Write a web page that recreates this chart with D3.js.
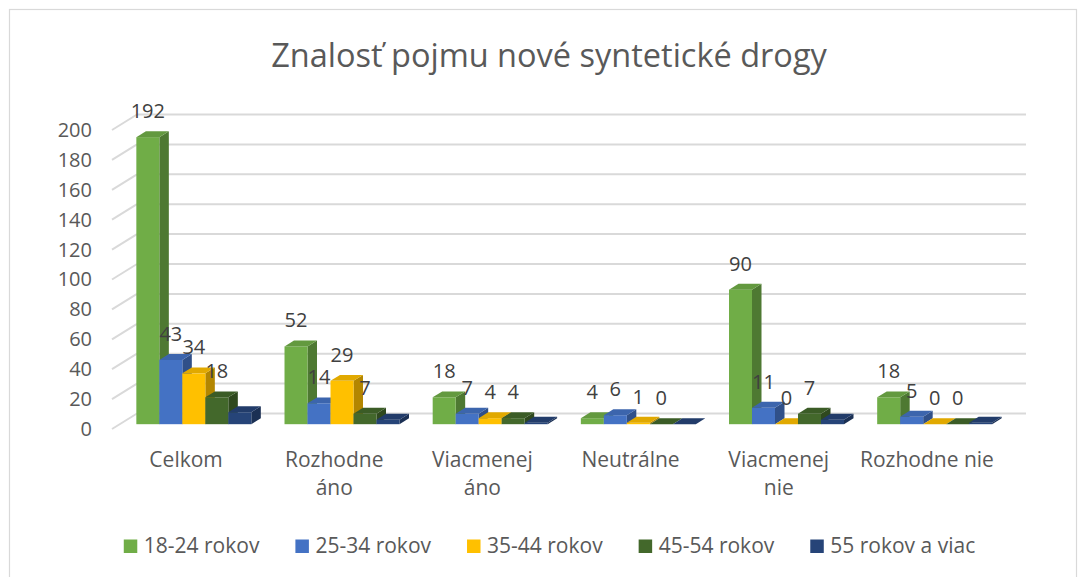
<!DOCTYPE html>
<html>
<head>
<meta charset="utf-8">
<script src="https://cdn.jsdelivr.net/npm/d3@7"></script>
<style>
  html, body { margin: 0; padding: 0; background: #ffffff; }
  svg { display: block; font-family: "Open Sans", sans-serif; }
</style>
</head>
<body>
<svg id="chart" width="1078" height="577"></svg>
<script>
const title = "Znalosť pojmu nové syntetické drogy";
const categories = ["Celkom", "Rozhodne áno", "Viacmenej áno", "Neutrálne", "Viacmenej nie", "Rozhodne nie"];
const categoryLines = [["Celkom"], ["Rozhodne", "áno"], ["Viacmenej", "áno"], ["Neutrálne"], ["Viacmenej", "nie"], ["Rozhodne nie"]];
const seriesNames = ["18-24 rokov", "25-34 rokov", "35-44 rokov", "45-54 rokov", "55 rokov a viac"];
const seriesColors = ["#70AD47", "#4472C4", "#FFC000", "#43682B", "#264478"];
const values1824 = [192, 52, 18, 4, 90, 18];
const values2534 = [43, 14, 7, 6, 11, 5];
const values3544 = [34, 29, 4, 1, 0, 0];
const values4554 = [18, 7, 4, 0, 7, 0];
const values55 = [8, 3, 1, 0, 3, 1];
const showLabels = [true, true, true, true, false];
const yTicks = [0, 20, 40, 60, 80, 100, 120, 140, 160, 180, 200];

const seriesValues = [values1824, values2534, values3544, values4554, values55];

const svg = d3.select("#chart");
const textColor = "#595959";
const gridColor = "#d9d9d9";

// chart border
svg.append("rect").attr("x", 9.5).attr("y", 9.5).attr("width", 1067).attr("height", 580)
  .attr("fill", "none").attr("stroke", gridColor).attr("stroke-width", 1.2);

// 3D geometry
const depthDX = 25, depthDY = -15.5;
const d0 = 0.31, d1 = 0.69;

const x0 = d3.scaleBand().domain(categories).range([112, 1001]).paddingInner(0.224).paddingOuter(0.112);
const x1 = d3.scaleBand().domain(seriesNames).range([0, x0.bandwidth()]);
const y = d3.scaleLinear().domain([0, 200]).range([429, 130]);

// title
svg.append("text").attr("x", 549).attr("y", 67).attr("text-anchor", "middle")
  .attr("fill", textColor).style("font-size", "32.5px").text(title);

// gridlines on back wall + side wall diagonals
const grid = svg.append("g");
yTicks.forEach(t => {
  const yf = y(t);
  grid.append("line").attr("x1", 112).attr("y1", yf).attr("x2", 112 + depthDX).attr("y2", yf + depthDY)
    .attr("stroke", gridColor).attr("stroke-width", 2);
  grid.append("line").attr("x1", 112 + depthDX).attr("y1", yf + depthDY).attr("x2", 1001 + depthDX).attr("y2", yf + depthDY)
    .attr("stroke", gridColor).attr("stroke-width", 2);
});

// y axis labels
const yAxis = d3.axisLeft(y).tickValues(yTicks).tickSize(0).tickPadding(0);
const yg = svg.append("g").attr("transform", "translate(92,0)").call(yAxis);
yg.select(".domain").remove();
yg.selectAll("text").attr("fill", textColor).style("font-size", "20px").style("font-family", "Open Sans");

// bars
const ox = depthDX * d0, oy = depthDY * d0;
const ddx = depthDX * (d1 - d0), ddy = depthDY * (d1 - d0);
const barsG = svg.append("g");
const labelsG = svg.append("g");

categories.forEach((cat, ci) => {
  seriesNames.forEach((s, si) => {
    const v = seriesValues[si][ci];
    const xl = x0(cat) + x1(s) + ox;
    const xr = xl + x1.bandwidth();
    const yt = y(v) + oy;
    const yb = y(0) + oy;
    const base = d3.color(seriesColors[si]);
    const g = barsG.append("g");
    g.append("path")
      .attr("d", `M${xr},${yt} L${xr + ddx},${yt + ddy} L${xr + ddx},${yb + ddy} L${xr},${yb} Z`)
      .attr("fill", base.darker(1.0).formatHex());
    g.append("rect").attr("x", xl).attr("y", yt).attr("width", xr - xl).attr("height", Math.max(0, yb - yt))
      .attr("fill", base.formatHex());
    g.append("path")
      .attr("d", `M${xl},${yt} L${xl + ddx},${yt + ddy} L${xr + ddx},${yt + ddy} L${xr},${yt} Z`)
      .attr("fill", base.darker(0.35).formatHex());
    if (showLabels[si]) {
      labelsG.append("text").attr("x", (xl + xr) / 2).attr("y", yt - 19)
        .attr("text-anchor", "middle").attr("fill", "#404040").style("font-size", "20px")
        .text(v);
    }
  });
});

// category labels
categories.forEach((cat, ci) => {
  const cx = x0.step() * (ci + 0.5) + 112;
  const t = svg.append("text").attr("text-anchor", "middle").attr("fill", textColor).style("font-size", "21px");
  categoryLines[ci].forEach((line, li) => {
    t.append("tspan").attr("x", cx).attr("y", 467 + li * 28).text(line);
  });
});

// legend
const legend = svg.append("g");
let cursor = 0;
seriesNames.forEach((s, si) => {
  const g = legend.append("g");
  g.append("rect").attr("x", 0).attr("y", -13.5).attr("width", 13.5).attr("height", 13.5).attr("fill", seriesColors[si]);
  const tx = g.append("text").attr("x", 20).attr("y", 0).attr("fill", textColor).style("font-size", "21px").text(s);
  const w = 20 + tx.node().getComputedTextLength();
  g.attr("transform", `translate(${cursor},553)`);
  cursor += w + 36;
});
const totalW = cursor - 36;
legend.attr("transform", `translate(${549.5 - totalW / 2},0)`);
</script>
</body>
</html>
